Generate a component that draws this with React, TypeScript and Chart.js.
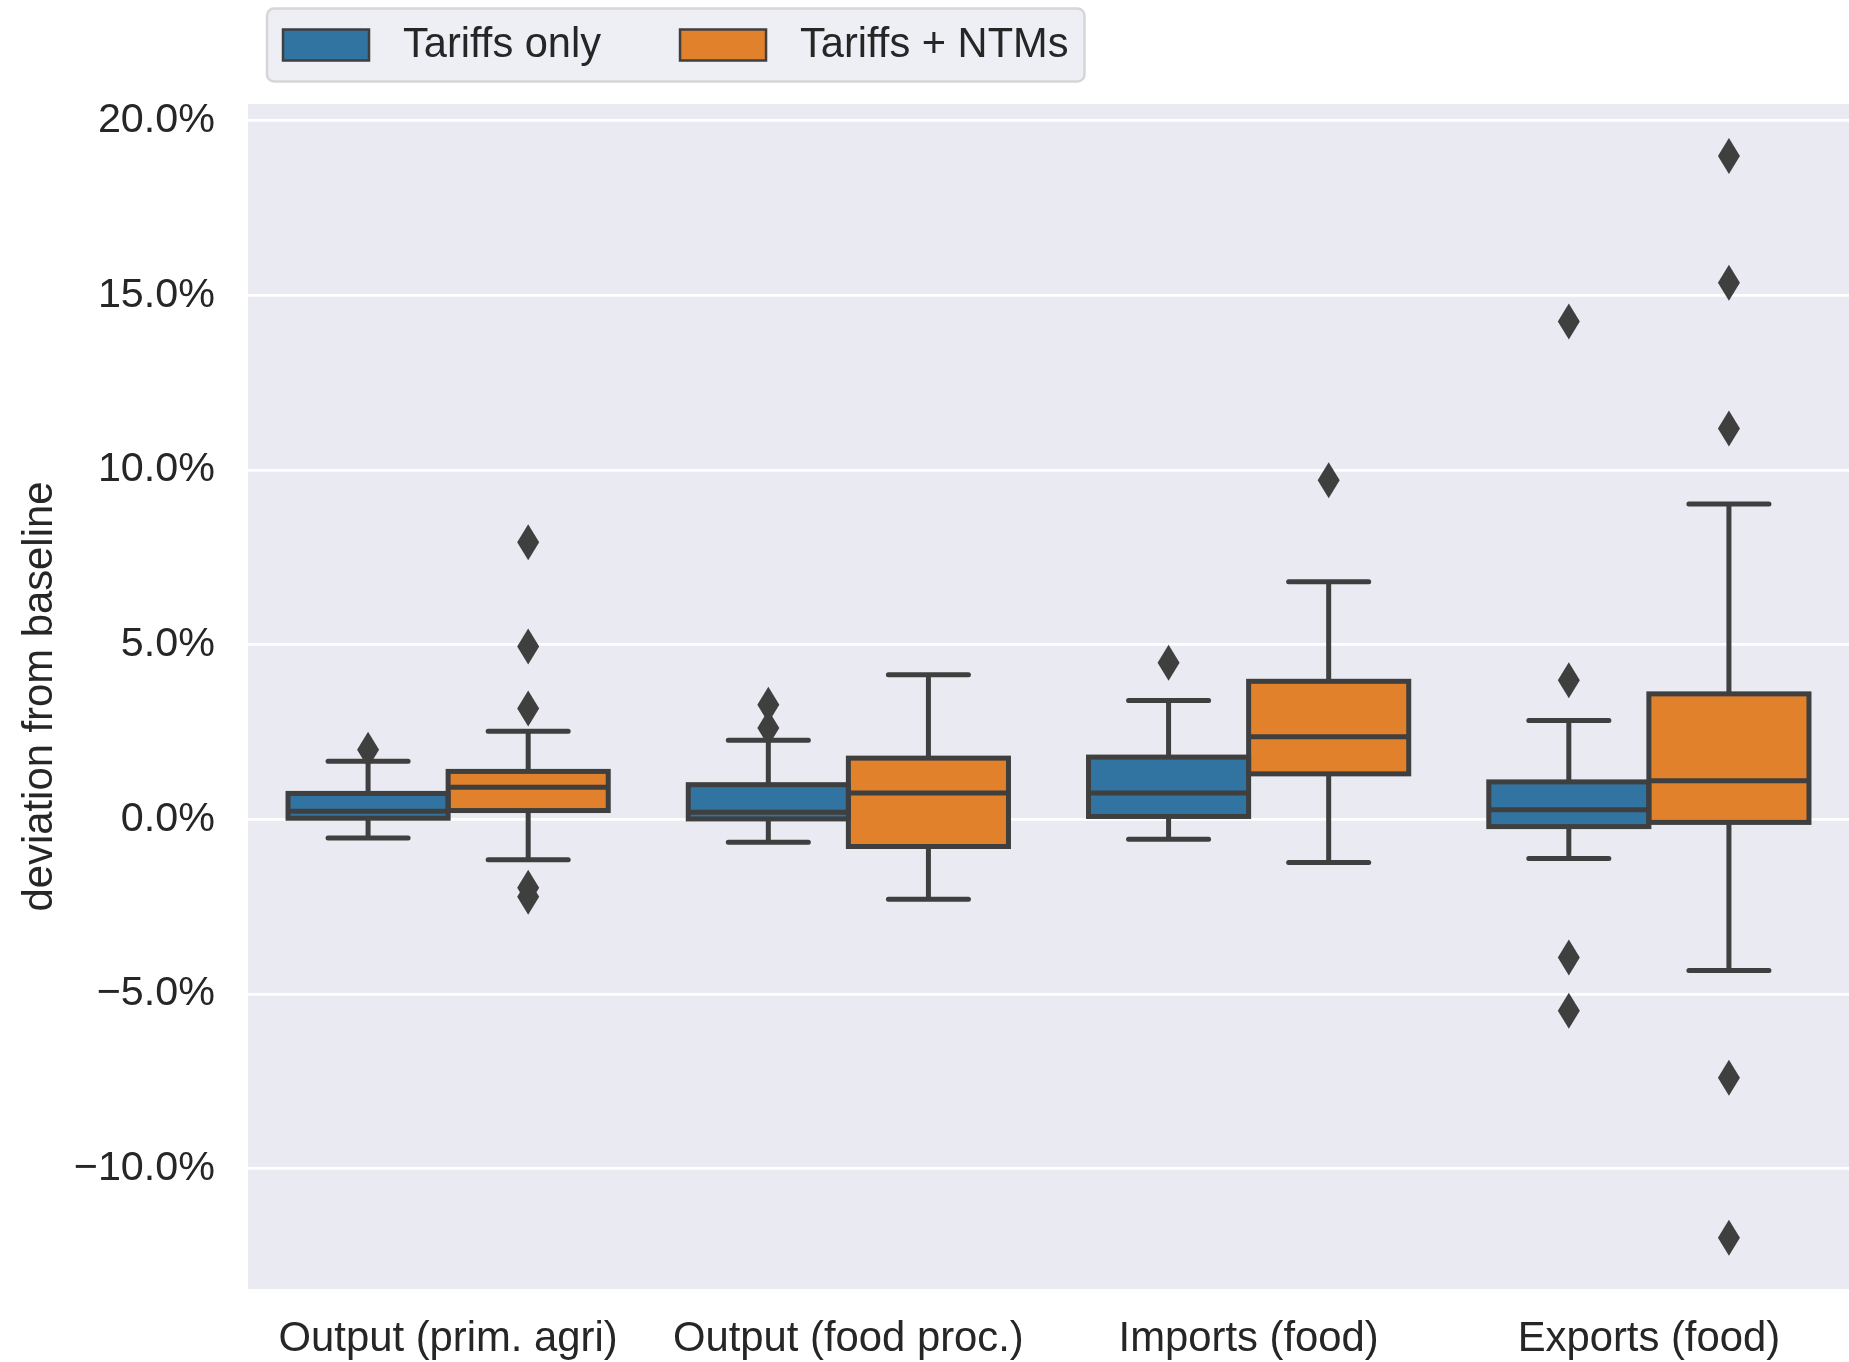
import { useEffect, useRef } from "react";
import { Chart, registerables } from "chart.js";

Chart.register(...registerables);

// Categories and series
const categories = ["Output (prim. agri)", "Output (food proc.)", "Imports (food)", "Exports (food)"];
const seriesLabels = ["Tariffs only", "Tariffs + NTMs"];
const seriesColors = ["#3274A1", "#E1812C"];
const yTickValues = [-10, -5, 0, 5, 10, 15, 20];

// Tariffs only: whisker ends, quartiles, medians and fliers (% deviation from baseline)
const tariffsLow = [-0.54, -0.66, -0.57, -1.12];
const tariffsQ1 = [0.03, 0.01, 0.08, -0.21];
const tariffsMedian = [0.23, 0.2, 0.75, 0.27];
const tariffsQ3 = [0.74, 0.99, 1.78, 1.07];
const tariffsHigh = [1.66, 2.26, 3.4, 2.83];
const tariffsFliers = [[1.99], [2.61, 3.28], [4.48], [14.25, 3.98, -3.96, -5.48]];

// Tariffs + NTMs
const ntmsLow = [-1.16, -2.29, -1.24, -4.33];
const ntmsQ1 = [0.25, -0.78, 1.3, -0.09];
const ntmsMedian = [0.92, 0.75, 2.36, 1.1];
const ntmsQ3 = [1.37, 1.75, 3.95, 3.59];
const ntmsHigh = [2.52, 4.14, 6.8, 9.03];
const ntmsFliers = [[7.93, 4.95, 3.17, -1.96, -2.22], [], [9.71], [18.99, 15.36, 11.19, -7.4, -11.98]];

const FONT_FAMILY = '"Liberation Sans", Arial, Helvetica, sans-serif';
const TEXT_COLOR = "#262626";
const EDGE_COLOR = "#3f3f3f";
const TICK_FONT_SIZE = 41.3;
const LABEL_FONT_SIZE = 41.8;
const LEGEND_FONT_SIZE = 41.6;

const formatPercent = (v: number) => `${v < 0 ? "\u2212" : ""}${Math.abs(v).toFixed(1)}%`;

const makeDataset = (
  label: string,
  color: string,
  low: number[],
  q1: number[],
  median: number[],
  q3: number[],
  high: number[],
  fliers: number[][]
) => ({
  label,
  data: categories.map((_, i) => [q1[i], q3[i]]),
  backgroundColor: color,
  borderWidth: 0,
  categoryPercentage: 0.8,
  barPercentage: 1.0,
  stats: { low, median, high, fliers },
});

// Draws the plot background, box outlines, whiskers, medians, fliers and the framed legend
const boxPlotLayer = {
  id: "boxPlotLayer",
  beforeDraw(chart: any) {
    const { ctx, chartArea: a } = chart;
    ctx.save();
    ctx.fillStyle = "#EAEAF2";
    ctx.fillRect(a.left, a.top, a.right - a.left, a.bottom - a.top);
    ctx.restore();
  },
  afterDatasetsDraw(chart: any) {
    const { ctx } = chart;
    const ys = chart.scales.y;
    const lw = 5;
    chart.data.datasets.forEach((ds: any, di: number) => {
      const meta = chart.getDatasetMeta(di);
      const { low, median, high, fliers } = ds.stats;
      meta.data.forEach((bar: any, i: number) => {
        const { x, width } = bar.getProps(["x", "width"], true);
        const left = x - width / 2;
        const right = x + width / 2;
        const [q1, q3] = ds.data[i];
        const yQ1 = ys.getPixelForValue(q1);
        const yQ3 = ys.getPixelForValue(q3);
        const yMed = ys.getPixelForValue(median[i]);
        const yLow = ys.getPixelForValue(low[i]);
        const yHigh = ys.getPixelForValue(high[i]);
        ctx.save();
        ctx.strokeStyle = EDGE_COLOR;
        ctx.lineWidth = lw;
        // whiskers
        ctx.lineCap = "butt";
        ctx.beginPath();
        ctx.moveTo(x, yQ3);
        ctx.lineTo(x, yHigh);
        ctx.moveTo(x, yQ1);
        ctx.lineTo(x, yLow);
        ctx.stroke();
        // caps
        ctx.lineCap = "round";
        ctx.beginPath();
        ctx.moveTo(x - width / 4, yHigh);
        ctx.lineTo(x + width / 4, yHigh);
        ctx.moveTo(x - width / 4, yLow);
        ctx.lineTo(x + width / 4, yLow);
        ctx.stroke();
        // box outline
        ctx.lineCap = "butt";
        ctx.lineJoin = "miter";
        ctx.strokeRect(left, Math.min(yQ1, yQ3), width, Math.abs(yQ1 - yQ3));
        // median
        ctx.beginPath();
        ctx.moveTo(left, yMed);
        ctx.lineTo(right, yMed);
        ctx.stroke();
        // fliers (thin diamonds)
        ctx.fillStyle = EDGE_COLOR;
        const hw = 11;
        const hh = 18;
        (fliers[i] || []).forEach((v: number) => {
          const py = ys.getPixelForValue(v);
          ctx.beginPath();
          ctx.moveTo(x, py - hh);
          ctx.lineTo(x + hw, py);
          ctx.lineTo(x, py + hh);
          ctx.lineTo(x - hw, py);
          ctx.closePath();
          ctx.fill();
        });
        ctx.restore();
      });
    });
  },
  afterDraw(chart: any) {
    const { ctx } = chart;
    ctx.save();
    ctx.font = `${LEGEND_FONT_SIZE}px ${FONT_FAMILY}`;
    const frameLeft = 267;
    const frameTop = 8.5;
    const frameH = 73;
    const padL = 16;
    const padR = 16;
    const patchW = 86;
    const patchH = 31;
    const textGap = 34;
    const itemGap = 79;
    const items = chart.data.datasets.map((ds: any) => ({
      label: ds.label,
      color: ds.backgroundColor,
      w: ctx.measureText(ds.label).width,
    }));
    let total = padL + padR;
    items.forEach((it: any, k: number) => {
      total += patchW + textGap + it.w + (k > 0 ? itemGap : 0);
    });
    // frame
    const r = 7;
    const fx = frameLeft;
    const fy = frameTop;
    const fw = total;
    const fh = frameH;
    ctx.beginPath();
    ctx.moveTo(fx + r, fy);
    ctx.lineTo(fx + fw - r, fy);
    ctx.arcTo(fx + fw, fy, fx + fw, fy + r, r);
    ctx.lineTo(fx + fw, fy + fh - r);
    ctx.arcTo(fx + fw, fy + fh, fx + fw - r, fy + fh, r);
    ctx.lineTo(fx + r, fy + fh);
    ctx.arcTo(fx, fy + fh, fx, fy + fh - r, r);
    ctx.lineTo(fx, fy + r);
    ctx.arcTo(fx, fy, fx + r, fy, r);
    ctx.closePath();
    ctx.fillStyle = "#EEEEF5";
    ctx.fill();
    ctx.strokeStyle = "#D6D6D6";
    ctx.lineWidth = 2.5;
    ctx.stroke();
    // entries
    const cy = fy + fh / 2;
    let cx = fx + padL;
    items.forEach((it: any) => {
      ctx.fillStyle = it.color;
      ctx.fillRect(cx, cy - patchH / 2, patchW, patchH);
      ctx.strokeStyle = EDGE_COLOR;
      ctx.lineWidth = 2.5;
      ctx.strokeRect(cx, cy - patchH / 2, patchW, patchH);
      cx += patchW + textGap;
      ctx.fillStyle = TEXT_COLOR;
      ctx.textBaseline = "middle";
      ctx.textAlign = "left";
      ctx.fillText(it.label, cx, cy + 1);
      cx += it.w + itemGap;
    });
    ctx.restore();
  },
};

export default function App() {
  const canvasRef = useRef<HTMLCanvasElement>(null);

  useEffect(() => {
    document.body.style.margin = "0";
    const canvas = canvasRef.current;
    if (!canvas) return;
    const tickFont = { size: TICK_FONT_SIZE, family: FONT_FAMILY, lineHeight: 1.2 };
    const labelFont = { size: LABEL_FONT_SIZE, family: FONT_FAMILY, lineHeight: 1.2 };
    const chart = new Chart(canvas, {
      type: "bar",
      data: {
        labels: categories,
        datasets: [
          makeDataset(seriesLabels[0], seriesColors[0], tariffsLow, tariffsQ1, tariffsMedian, tariffsQ3, tariffsHigh, tariffsFliers),
          makeDataset(seriesLabels[1], seriesColors[1], ntmsLow, ntmsQ1, ntmsMedian, ntmsQ3, ntmsHigh, ntmsFliers),
        ] as any,
      },
      options: {
        responsive: false,
        animation: false,
        layout: { padding: { top: 104, left: 0, right: 0, bottom: 0 } },
        plugins: {
          legend: { display: false },
          tooltip: { enabled: false },
        },
        scales: {
          x: {
            type: "category",
            offset: true,
            grid: { display: false, drawTicks: false },
            border: { display: false },
            ticks: { padding: 25.5, color: TEXT_COLOR, font: labelFont, maxRotation: 0, autoSkip: false },
            afterFit: (s: any) => {
              s.height = 73;
            },
          },
          y: {
            type: "linear",
            min: -13.45,
            max: 20.48,
            afterBuildTicks: (s: any) => {
              s.ticks = yTickValues.map((v) => ({ value: v }));
            },
            afterFit: (s: any) => {
              s.width = 248;
            },
            grid: { color: "#ffffff", lineWidth: 2.7, drawTicks: false },
            border: { display: false },
            ticks: {
              padding: 33,
              color: TEXT_COLOR,
              font: tickFont,
              callback: (v: any) => formatPercent(Number(v)),
            },
            title: {
              display: true,
              text: "deviation from baseline",
              color: TEXT_COLOR,
              font: labelFont,
              padding: { top: 15, bottom: 0 },
            },
          },
        },
      } as any,
      plugins: [boxPlotLayer],
    });
    return () => chart.destroy();
  }, []);

  return (
    <div style={{ width: 1849, height: 1362 }}>
      <canvas ref={canvasRef} width={1849} height={1362} style={{ display: "block" }} />
    </div>
  );
}
